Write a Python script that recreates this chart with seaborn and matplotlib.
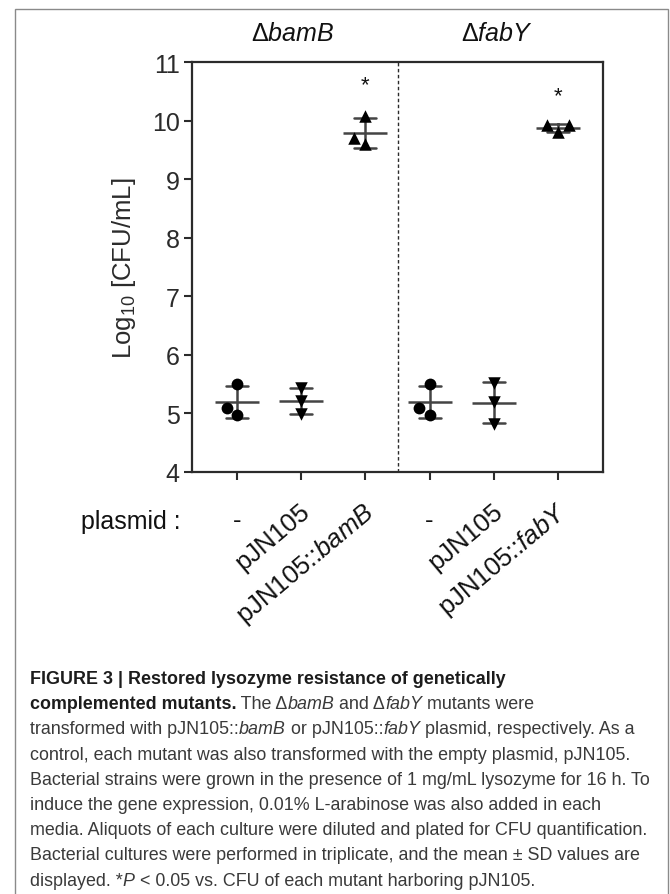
import numpy as np
import pandas as pd
import seaborn as sns
import matplotlib
matplotlib.use("Agg")
import matplotlib.pyplot as plt
from matplotlib import font_manager as fm
from matplotlib.patches import Rectangle
import matplotlib.transforms as mtransforms

# ---------------- data ----------------
groups = ["bamB_none", "bamB_pJN105", "bamB_comp", "fabY_none", "fabY_pJN105", "fabY_comp"]
tick_labels = ["-", "pJN105", "pJN105::$\\mathit{bamB}$", "-", "pJN105", "pJN105::$\\mathit{fabY}$"]
marker_kind = ["o", "v", "^", "o", "v", "^"]
bamB_none = [5.50, 4.98, 5.09]
bamB_pJN105 = [5.43, 5.21, 4.99]
bamB_comp = [10.08, 9.70, 9.60]
fabY_none = [5.50, 4.98, 5.09]
fabY_pJN105 = [5.52, 5.20, 4.82]
fabY_comp = [9.92, 9.80, 9.92]
strain_labels = ["Δ$\\mathit{bamB}$", "Δ$\\mathit{fabY}$"]
strain_label_x = [0.87, 4.05]
sig_groups = [2, 5]
sig_y = [10.62, 10.42]
y_ticks = [4, 5, 6, 7, 8, 9, 10, 11]

values = [bamB_none, bamB_pJN105, bamB_comp, fabY_none, fabY_pJN105, fabY_comp]
rows = []
for g, mk, vals in zip(groups, marker_kind, values):
    for v in vals:
        rows.append({"group": g, "marker": mk, "value": v})
df = pd.DataFrame(rows)

# ---------------- style ----------------
sns.set_style("ticks")
plt.rcParams["font.family"] = ["Liberation Sans", "DejaVu Sans"]
plt.rcParams["mathtext.fontset"] = "custom"
plt.rcParams["mathtext.default"] = "regular"
plt.rcParams["mathtext.rm"] = "Liberation Sans"
plt.rcParams["mathtext.it"] = "Liberation Sans:italic"
plt.rcParams["mathtext.bf"] = "Liberation Sans:bold"

INK = "#2b2b2b"
W, H = 670, 895
fig = plt.figure(figsize=(W / 100, H / 100), dpi=100)
fig.patch.set_facecolor("white")

def fx(px):
    return px / W

def fy(py):
    return 1 - py / H

ax = fig.add_axes([fx(192), fy(473), fx(603) - fx(192), fy(63) - fy(473)])

# mean +/- SD
sns.pointplot(data=df, x="group", y="value", order=groups, errorbar="sd",
              capsize=0.34, linestyle="none", marker="_", markersize=31,
              markeredgewidth=1.8, color="#444444",
              err_kws={"linewidth": 1.8}, ax=ax, zorder=2)

# individual points
for mk in ["o", "v", "^"]:
    sub = df[df["marker"] == mk]
    sns.swarmplot(data=sub, x="group", y="value", order=groups, marker=mk,
                  size=8.5 if mk == "o" else 9, color="black", linewidth=0,
                  ax=ax, zorder=3)

ax.set_xlim(-0.7, 5.7)
ax.set_ylim(4, 11)
ax.set_yticks(y_ticks)
ax.set_yticklabels([str(t) for t in y_ticks], fontsize=18, color=INK)
ax.axvline(2.5, color=INK, lw=1.0, ls=(0, (2.5, 1.8)), zorder=1)

for s in ax.spines.values():
    s.set_visible(True)
    s.set_linewidth(1.6)
    s.set_color(INK)
ax.tick_params(axis="y", length=6, width=1.5, color=INK, pad=3)
ax.tick_params(axis="x", length=6, width=1.5, color=INK, pad=20)
ax.set_xlabel("")
ax.set_ylabel("Log$_{10}$ [CFU/mL]", fontsize=18.5, color=INK, labelpad=10)

ax.set_xticks(range(len(groups)))
ax.set_xticklabels(tick_labels, fontsize=18.5, color="#111111")
shift = mtransforms.ScaledTranslation(6 / 100, 0, fig.dpi_scale_trans)
for lab in ax.get_xticklabels():
    if lab.get_text() == "-":
        lab.set_rotation(0)
        lab.set_ha("center")
        lab.set_va("top")
    else:
        lab.set_rotation(40)
        lab.set_ha("right")
        lab.set_va("center")
        lab.set_rotation_mode("anchor")
        lab.set_transform(lab.get_transform() + shift)

# strain headers
hdr_tr = mtransforms.blended_transform_factory(ax.transData, ax.transAxes)
for lbl, xpos in zip(strain_labels, strain_label_x):
    ax.text(xpos, 1.07, lbl, transform=hdr_tr, ha="center", va="center",
            fontsize=18, color="#111111")

# significance asterisks
for gi, yv in zip(sig_groups, sig_y):
    ax.text(gi, yv, "*", ha="center", va="center", fontsize=16, color="#111111")

fig.text(fx(81), fy(522), "plasmid :", ha="left", va="center", fontsize=18,
         color="#111111")

# outer frame
fig.patches.append(Rectangle((fx(15), fy(900)), fx(668) - fx(15), fy(10) - fy(900),
                             transform=fig.transFigure, fill=False,
                             edgecolor="#8a8a8a", lw=1.0))

# ---------------- caption ----------------
names = {f.name for f in fm.fontManager.ttflist}
cap_family = ["Liberation Sans Narrow"] if "Liberation Sans Narrow" in names else ["Liberation Sans"]
cap_family = cap_family + ["DejaVu Sans"]

cap_lines = [
    [("FIGURE 3 | Restored lysozyme resistance of genetically", "b")],
    [("complemented mutants.", "b"), (" The Δ", "r"), ("bamB", "i"), (" and Δ", "r"),
     ("fabY", "i"), (" mutants were", "r")],
    [("transformed with pJN105::", "r"), ("bamB", "i"), (" or pJN105::", "r"), ("fabY", "i"),
     (" plasmid, respectively. As a", "r")],
    [("control, each mutant was also transformed with the empty plasmid, pJN105.", "r")],
    [("Bacterial strains were grown in the presence of 1 mg/mL lysozyme for 16 h. To", "r")],
    [("induce the gene expression, 0.01% L-arabinose was also added in each", "r")],
    [("media. Aliquots of each culture were diluted and plated for CFU quantification.", "r")],
    [("Bacterial cultures were performed in triplicate, and the mean ± SD values are", "r")],
    [("displayed. *", "r"), ("P", "i"), (" < 0.05 vs. CFU of each mutant harboring pJN105.", "r")],
]

renderer = fig.canvas.get_renderer()

def seg_props(kind, size):
    p = dict(fontsize=size, family=cap_family)
    if kind == "b":
        p.update(weight="bold", color="#1c1c1c")
    elif kind == "i":
        p.update(style="italic", color="#3a3a3a")
    else:
        p.update(color="#3a3a3a")
    return p

def measure(s, kind, size):
    t1 = fig.text(0, 0, "|" + s + "|", **seg_props(kind, size))
    t2 = fig.text(0, 0, "||", **seg_props(kind, size))
    w = t1.get_window_extent(renderer).width - t2.get_window_extent(renderer).width
    t1.remove()
    t2.remove()
    return w

ref_w = measure(cap_lines[4][0][0], "r", 12)
cap_size = 12 * 620 / ref_w
cap_size = min(cap_size, 13.5)

y0 = 684
for i, line in enumerate(cap_lines):
    xpx = 30
    ypx = y0 + 25.2 * i
    for s, kind in line:
        fig.text(fx(xpx), fy(ypx), s, ha="left", va="baseline", **seg_props(kind, cap_size))
        xpx += measure(s, kind, cap_size)

fig.savefig("out.png", dpi=100, facecolor="white")
